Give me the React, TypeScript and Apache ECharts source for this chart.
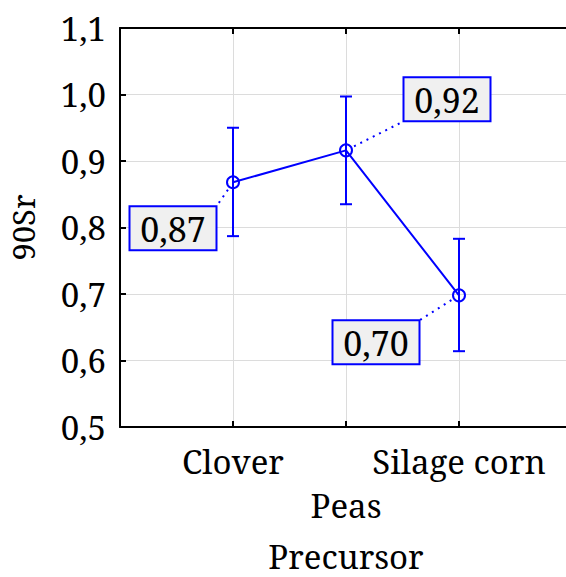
import React, { useEffect, useRef } from "react";
import * as echarts from "echarts";

// Precursor groups and the measured 90Sr means with their confidence limits
const categories = ["Clover", "Peas", "Silage corn"];
const means = [0.868, 0.916, 0.698];
const upper = [0.95, 0.997, 0.783];
const lower = [0.787, 0.835, 0.614];

// Offset (px) of each value box centre from its mean point
const labelOffsets = [
  [-60, 46],
  [101, -51],
  [-83, 47],
];

const BLUE = "#0000ff";
const FONT = "Noto Serif";
const FS = 33;
const fmt = (v: number, d: number) => v.toFixed(d).replace(".", ",");

export default function App() {
  const ref = useRef<HTMLDivElement>(null);

  useEffect(() => {
    const chart = echarts.init(ref.current!, null, { renderer: "svg" });
    const xs = categories.map((_, i) => i + 1);

    const axisLine = { show: true, lineStyle: { color: "#000", width: 2 } };
    const axisTick = { show: true, inside: true, length: 6, lineStyle: { color: "#000", width: 2 } };
    const splitLine = { show: true, lineStyle: { color: "#dcdcdc", width: 1 } };

    chart.setOption({
      animation: false,
      textStyle: { fontFamily: FONT },
      grid: { left: 120, top: 28, width: 452, height: 399, outerBoundsMode: "none", containLabel: false },
      xAxis: [
        {
          type: "value",
          position: "bottom",
          min: 0,
          max: categories.length + 1,
          interval: 1,
          axisLine,
          axisTick,
          splitLine,
          axisLabel: {
            color: "#000",
            fontFamily: FONT,
            fontSize: FS,
            lineHeight: 44,
            margin: 12,
            formatter: (v: number) => {
              const i = Math.round(v) - 1;
              if (i < 0 || i >= categories.length) return "";
              return i % 2 === 1 ? "\n" + categories[i] : categories[i];
            },
          },
          name: "Precursor",
          nameLocation: "middle",
          nameGap: 113,
          nameTextStyle: { color: "#000", fontFamily: FONT, fontSize: FS, lineHeight: 33 },
        },
        {
          type: "value",
          position: "top",
          min: 0,
          max: categories.length + 1,
          interval: 1,
          axisLine,
          axisTick,
          splitLine: { show: false },
          axisLabel: { show: false },
        },
      ],
      yAxis: {
        type: "value",
        min: 0.5,
        max: 1.1,
        interval: 0.1,
        axisLine,
        axisTick,
        splitLine,
        axisLabel: {
          color: "#000",
          fontFamily: FONT,
          fontSize: FS,
          margin: 14,
          formatter: (v: number) => fmt(v, 1),
        },
        name: "90Sr",
        nameLocation: "middle",
        nameGap: 82,
        nameTextStyle: { color: "#000", fontFamily: FONT, fontSize: 31 },
      },
      series: [
        {
          type: "custom",
          name: "limits",
          data: xs.map((x, i) => [x, lower[i], upper[i]]),
          encode: { x: 0, y: [1, 2] },
          z: 2,
          renderItem: (params: any, api: any) => {
            const x = api.value(0);
            const lo = api.coord([x, api.value(1)]);
            const hi = api.coord([x, api.value(2)]);
            const cap = 6;
            const style = { stroke: BLUE, lineWidth: 2 };
            return {
              type: "group",
              children: [
                { type: "line", shape: { x1: hi[0], y1: hi[1], x2: lo[0], y2: lo[1] }, style },
                { type: "line", shape: { x1: hi[0] - cap, y1: hi[1], x2: hi[0] + cap, y2: hi[1] }, style },
                { type: "line", shape: { x1: lo[0] - cap, y1: lo[1], x2: lo[0] + cap, y2: lo[1] }, style },
              ],
            };
          },
        },
        {
          type: "line",
          name: "mean",
          data: xs.map((x, i) => [x, means[i]]),
          z: 3,
          symbol: "circle",
          symbolSize: 12,
          lineStyle: { color: BLUE, width: 2 },
          itemStyle: { color: "rgba(0,0,0,0)", borderColor: BLUE, borderWidth: 2 },
        },
        {
          type: "custom",
          name: "values",
          data: xs.map((x, i) => [x, means[i]]),
          z: 4,
          renderItem: (params: any, api: any) => {
            const i = params.dataIndex;
            const p = api.coord([api.value(0), api.value(1)]);
            const [dx, dy] = labelOffsets[i];
            const w = 87;
            const h = 44;
            const cx = p[0] + dx;
            const cy = p[1] + dy;
            const cornerX = dx < 0 ? cx + w / 2 : cx - w / 2;
            const cornerY = dy < 0 ? cy + h / 2 : cy - h / 2;
            const len = Math.hypot(cornerX - p[0], cornerY - p[1]);
            const sx = p[0] + ((cornerX - p[0]) / len) * 9;
            const sy = p[1] + ((cornerY - p[1]) / len) * 9;
            return {
              type: "group",
              children: [
                {
                  type: "line",
                  shape: { x1: sx, y1: sy, x2: cornerX, y2: cornerY },
                  style: { stroke: BLUE, lineWidth: 2, lineDash: [2, 5] },
                },
                {
                  type: "rect",
                  shape: { x: cx - w / 2, y: cy - h / 2, width: w, height: h },
                  style: { fill: "#f0f0f0", stroke: BLUE, lineWidth: 2 },
                },
                {
                  type: "text",
                  x: cx,
                  y: cy + 1,
                  style: {
                    text: fmt(means[i], 2),
                    fill: "#000",
                    fontFamily: FONT,
                    fontSize: 34,
                    align: "center",
                    verticalAlign: "middle",
                  },
                },
              ],
            };
          },
        },
      ],
    });

    return () => chart.dispose();
  }, []);

  return (
    <div
      ref={ref}
      style={{ position: "absolute", left: 0, top: 0, width: 566, height: 577, background: "#fff" }}
    />
  );
}
